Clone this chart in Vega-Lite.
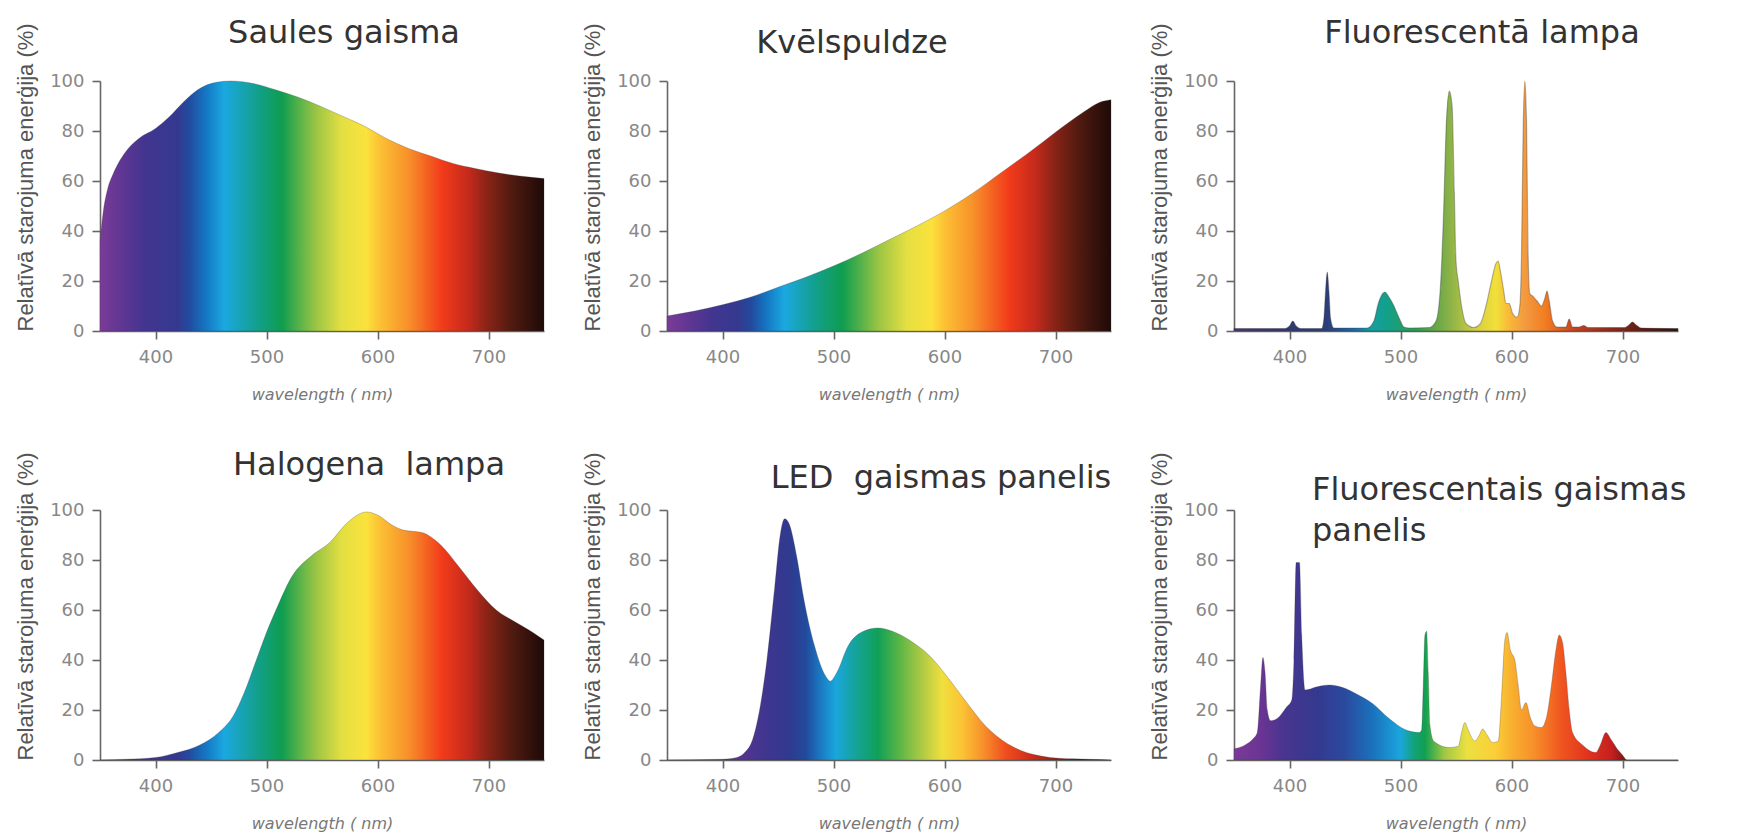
{
  "$schema": "https://vega.github.io/schema/vega-lite/v6.json",
  "background": "white",
  "padding": {"left": 14, "top": 16, "right": 5, "bottom": 2},
  "autosize": {"type": "pad"},
  "datasets": {
    "sun": [
      {"wl": 350, "e": 36}, {"wl": 353, "e": 48}, {"wl": 357, "e": 57}, {"wl": 362, "e": 63}, {"wl": 372, "e": 71},
      {"wl": 385, "e": 77}, {"wl": 400, "e": 81}, {"wl": 412, "e": 85.5}, {"wl": 425, "e": 91.5}, {"wl": 438, "e": 96.5},
      {"wl": 455, "e": 99.5}, {"wl": 468, "e": 100}, {"wl": 488, "e": 99}, {"wl": 508, "e": 96.5}, {"wl": 528, "e": 93.6},
      {"wl": 548, "e": 90}, {"wl": 568, "e": 86}, {"wl": 588, "e": 82}, {"wl": 608, "e": 77}, {"wl": 628, "e": 73},
      {"wl": 648, "e": 70}, {"wl": 668, "e": 67}, {"wl": 688, "e": 65}, {"wl": 708, "e": 63.3}, {"wl": 728, "e": 62},
      {"wl": 750, "e": 61}
    ],
    "inc": [
      {"wl": 350, "e": 6}, {"wl": 375, "e": 8}, {"wl": 400, "e": 10.5}, {"wl": 425, "e": 13.5}, {"wl": 450, "e": 17.5},
      {"wl": 475, "e": 21.5}, {"wl": 500, "e": 26}, {"wl": 525, "e": 31}, {"wl": 550, "e": 36.5}, {"wl": 575, "e": 42},
      {"wl": 600, "e": 48}, {"wl": 625, "e": 55}, {"wl": 650, "e": 63}, {"wl": 675, "e": 71}, {"wl": 700, "e": 79.5},
      {"wl": 725, "e": 87.5}, {"wl": 740, "e": 91.5}, {"wl": 750, "e": 92.5}
    ],
    "fl": [
      {"wl": 350, "e": 1}, {"wl": 396, "e": 1}, {"wl": 400, "e": 2}, {"wl": 403, "e": 4}, {"wl": 406, "e": 2},
      {"wl": 410, "e": 1}, {"wl": 429, "e": 1}, {"wl": 431, "e": 5}, {"wl": 432.5, "e": 16}, {"wl": 434, "e": 23.6},
      {"wl": 435.5, "e": 16}, {"wl": 437, "e": 5}, {"wl": 440, "e": 1.2}, {"wl": 470, "e": 1.2}, {"wl": 476, "e": 4},
      {"wl": 480, "e": 11}, {"wl": 484, "e": 15}, {"wl": 486, "e": 15.6}, {"wl": 489, "e": 14}, {"wl": 493, "e": 11},
      {"wl": 497, "e": 7}, {"wl": 500, "e": 4}, {"wl": 503, "e": 1.6}, {"wl": 508, "e": 1.2}, {"wl": 526, "e": 1.4},
      {"wl": 532, "e": 4}, {"wl": 536, "e": 18}, {"wl": 539, "e": 50}, {"wl": 541, "e": 80}, {"wl": 544, "e": 96},
      {"wl": 546.5, "e": 90}, {"wl": 548.5, "e": 55}, {"wl": 550, "e": 28}, {"wl": 552, "e": 20}, {"wl": 555, "e": 10},
      {"wl": 559, "e": 3}, {"wl": 566, "e": 1.4}, {"wl": 572, "e": 3}, {"wl": 577, "e": 10}, {"wl": 582, "e": 20},
      {"wl": 586, "e": 27}, {"wl": 588, "e": 28}, {"wl": 590, "e": 24}, {"wl": 593, "e": 16}, {"wl": 595, "e": 11},
      {"wl": 598, "e": 11}, {"wl": 601, "e": 7}, {"wl": 605, "e": 5.5}, {"wl": 607.5, "e": 10}, {"wl": 609, "e": 30},
      {"wl": 610.5, "e": 80}, {"wl": 612, "e": 100}, {"wl": 613.5, "e": 85}, {"wl": 615, "e": 30}, {"wl": 616.5, "e": 15},
      {"wl": 619, "e": 14}, {"wl": 623, "e": 12}, {"wl": 627, "e": 10}, {"wl": 630, "e": 13}, {"wl": 632, "e": 16},
      {"wl": 634, "e": 12}, {"wl": 637, "e": 4}, {"wl": 641, "e": 1.6}, {"wl": 649, "e": 1.6}, {"wl": 652, "e": 4.8},
      {"wl": 655, "e": 1.6}, {"wl": 661, "e": 1.6}, {"wl": 665, "e": 2.2}, {"wl": 669, "e": 1.4}, {"wl": 702, "e": 1.4},
      {"wl": 706, "e": 2.5}, {"wl": 709, "e": 3.6}, {"wl": 712, "e": 2.5}, {"wl": 717, "e": 1.2}, {"wl": 750, "e": 1}
    ],
    "hal": [
      {"wl": 350, "e": 0}, {"wl": 373, "e": 0.3}, {"wl": 400, "e": 1}, {"wl": 420, "e": 3}, {"wl": 440, "e": 6},
      {"wl": 457, "e": 11}, {"wl": 470, "e": 17.6}, {"wl": 480, "e": 27}, {"wl": 490, "e": 39}, {"wl": 500, "e": 51},
      {"wl": 510, "e": 61.5}, {"wl": 523, "e": 73.5}, {"wl": 540, "e": 81.5}, {"wl": 557, "e": 87}, {"wl": 573, "e": 95},
      {"wl": 590, "e": 99.2}, {"wl": 600, "e": 98}, {"wl": 613, "e": 94}, {"wl": 623, "e": 92}, {"wl": 640, "e": 91},
      {"wl": 657, "e": 86}, {"wl": 673, "e": 77.5}, {"wl": 690, "e": 68}, {"wl": 707, "e": 60}, {"wl": 723, "e": 55.5},
      {"wl": 740, "e": 51}, {"wl": 750, "e": 48}
    ],
    "led": [
      {"wl": 350, "e": 0}, {"wl": 400, "e": 0.3}, {"wl": 413, "e": 1}, {"wl": 420, "e": 3}, {"wl": 427, "e": 8},
      {"wl": 433, "e": 19}, {"wl": 440, "e": 40}, {"wl": 447, "e": 69}, {"wl": 452, "e": 90}, {"wl": 456, "e": 96.5},
      {"wl": 460, "e": 94.5}, {"wl": 467, "e": 81}, {"wl": 473, "e": 65}, {"wl": 483, "e": 45.5}, {"wl": 493, "e": 33.5},
      {"wl": 497, "e": 31.5}, {"wl": 503, "e": 35}, {"wl": 513, "e": 45.5}, {"wl": 527, "e": 51.5}, {"wl": 540, "e": 52.8},
      {"wl": 553, "e": 51.5}, {"wl": 570, "e": 47.5}, {"wl": 587, "e": 41.5}, {"wl": 603, "e": 33}, {"wl": 620, "e": 23},
      {"wl": 637, "e": 13.6}, {"wl": 653, "e": 7.6}, {"wl": 670, "e": 3.6}, {"wl": 687, "e": 1.6}, {"wl": 703, "e": 0.7},
      {"wl": 730, "e": 0.3}, {"wl": 750, "e": 0}
    ],
    "flp": [
      {"wl": 350, "e": 4.5}, {"wl": 360, "e": 6}, {"wl": 367, "e": 8.4}, {"wl": 371, "e": 11}, {"wl": 374, "e": 30},
      {"wl": 376, "e": 41}, {"wl": 378, "e": 35}, {"wl": 380, "e": 20}, {"wl": 383, "e": 15.7}, {"wl": 390, "e": 17},
      {"wl": 397, "e": 21}, {"wl": 402, "e": 24}, {"wl": 404, "e": 40}, {"wl": 406, "e": 79}, {"wl": 409, "e": 79},
      {"wl": 411, "e": 50}, {"wl": 414, "e": 28}, {"wl": 425, "e": 29.3}, {"wl": 436, "e": 30}, {"wl": 448, "e": 29},
      {"wl": 460, "e": 26.5}, {"wl": 475, "e": 22.5}, {"wl": 490, "e": 16.5}, {"wl": 505, "e": 12}, {"wl": 517, "e": 11},
      {"wl": 519, "e": 12}, {"wl": 520.5, "e": 30}, {"wl": 522, "e": 50}, {"wl": 523.5, "e": 51.5}, {"wl": 525, "e": 35},
      {"wl": 526.5, "e": 14}, {"wl": 530, "e": 7.5}, {"wl": 544, "e": 5}, {"wl": 552, "e": 5.5}, {"wl": 555, "e": 11},
      {"wl": 558, "e": 15}, {"wl": 561, "e": 12}, {"wl": 567, "e": 7.6}, {"wl": 571, "e": 10}, {"wl": 574, "e": 12.4},
      {"wl": 578, "e": 10}, {"wl": 583, "e": 7}, {"wl": 588, "e": 7.5}, {"wl": 591, "e": 25}, {"wl": 594, "e": 48},
      {"wl": 596, "e": 51}, {"wl": 599, "e": 44}, {"wl": 603, "e": 40}, {"wl": 606, "e": 30}, {"wl": 609, "e": 20},
      {"wl": 613, "e": 23}, {"wl": 617, "e": 17}, {"wl": 621, "e": 13.6}, {"wl": 627, "e": 13}, {"wl": 632, "e": 18},
      {"wl": 636, "e": 30}, {"wl": 640, "e": 44}, {"wl": 643, "e": 50}, {"wl": 646, "e": 47}, {"wl": 649, "e": 35},
      {"wl": 652, "e": 20}, {"wl": 655, "e": 11}, {"wl": 664, "e": 6}, {"wl": 676, "e": 3}, {"wl": 680, "e": 6},
      {"wl": 685, "e": 11}, {"wl": 690, "e": 8}, {"wl": 696, "e": 4}, {"wl": 700, "e": 2}, {"wl": 704, "e": 0},
      {"wl": 750, "e": 0}
    ]
  },
  "columns": 3,
  "bounds": "flush",
  "spacing": {"row": 179, "column": 123},
  "concat": [
    {
      "width": 444, "height": 250,
      "data": {"name": "sun"},
      "title": {"text": "Saules gaisma", "dx": 22, "offset": -27},
      "mark": {"type": "area", "interpolate": "monotone", "stroke": "#333", "strokeOpacity": 0.25, "strokeWidth": 1,
        "fill": {"gradient": "linear", "x1": 0, "y1": 0, "x2": 1, "y2": 0, "stops": [
          {"offset": 0, "color": "#7b3b97"}, {"offset": 0.05, "color": "#5f3693"}, {"offset": 0.1, "color": "#433590"},
          {"offset": 0.175, "color": "#34398f"}, {"offset": 0.2, "color": "#224a9e"}, {"offset": 0.24, "color": "#1478c4"},
          {"offset": 0.28, "color": "#1ba8e0"}, {"offset": 0.33, "color": "#16a2a8"}, {"offset": 0.36, "color": "#129f86"},
          {"offset": 0.41, "color": "#0f9d50"}, {"offset": 0.46, "color": "#6cb848"}, {"offset": 0.49, "color": "#a0c644"},
          {"offset": 0.545, "color": "#e4df42"}, {"offset": 0.6, "color": "#fbe23c"}, {"offset": 0.63, "color": "#fcc134"},
          {"offset": 0.695, "color": "#f7902a"}, {"offset": 0.77, "color": "#f23b1a"}, {"offset": 0.83, "color": "#c42a1c"},
          {"offset": 0.87, "color": "#8c2417"}, {"offset": 0.93, "color": "#4e1a10"}, {"offset": 1, "color": "#1e0a08"}]}},
      "encoding": {
        "x": {"field": "wl", "type": "quantitative", "scale": {"domain": [350, 750], "nice": false, "zero": false}, "axis": {"values": [400, 500, 600, 700], "title": "wavelength ( nm)"}},
        "y": {"field": "e", "type": "quantitative", "scale": {"domain": [0, 100]}, "axis": {"values": [0, 20, 40, 60, 80, 100], "title": "Relatīvā starojuma enerģija (%)"}}
      }
    },
    {
      "width": 444, "height": 250,
      "data": {"name": "inc"},
      "title": {"text": "Kvēlspuldze", "dx": -37, "offset": -37},
      "mark": {"type": "area", "interpolate": "monotone", "stroke": "#333", "strokeOpacity": 0.25, "strokeWidth": 1,
        "fill": {"gradient": "linear", "x1": 0, "y1": 0, "x2": 1, "y2": 0, "stops": [
          {"offset": 0, "color": "#7b3b97"}, {"offset": 0.05, "color": "#5f3693"}, {"offset": 0.1, "color": "#433590"},
          {"offset": 0.16, "color": "#34398f"}, {"offset": 0.19, "color": "#224a9e"}, {"offset": 0.225, "color": "#1478c4"},
          {"offset": 0.265, "color": "#1ba8e0"}, {"offset": 0.31, "color": "#16a2a8"}, {"offset": 0.34, "color": "#129f86"},
          {"offset": 0.395, "color": "#0f9d50"}, {"offset": 0.45, "color": "#6cb848"}, {"offset": 0.48, "color": "#a0c644"},
          {"offset": 0.54, "color": "#e4df42"}, {"offset": 0.595, "color": "#fbe23c"}, {"offset": 0.625, "color": "#fcc134"},
          {"offset": 0.69, "color": "#f7902a"}, {"offset": 0.77, "color": "#f23b1a"}, {"offset": 0.83, "color": "#c42a1c"},
          {"offset": 0.87, "color": "#8c2417"}, {"offset": 0.93, "color": "#4e1a10"}, {"offset": 1, "color": "#1e0a08"}]}},
      "encoding": {
        "x": {"field": "wl", "type": "quantitative", "scale": {"domain": [350, 750], "nice": false, "zero": false}, "axis": {"values": [400, 500, 600, 700], "title": "wavelength ( nm)"}},
        "y": {"field": "e", "type": "quantitative", "scale": {"domain": [0, 100]}, "axis": {"values": [0, 20, 40, 60, 80, 100], "title": "Relatīvā starojuma enerģija (%)"}}
      }
    },
    {
      "width": 444, "height": 250,
      "data": {"name": "fl"},
      "title": {"text": "Fluorescentā lampa", "dx": 26, "offset": -27},
      "mark": {"type": "area", "interpolate": "monotone", "stroke": "#333", "strokeOpacity": 0.35, "strokeWidth": 1.2,
        "fill": {"gradient": "linear", "x1": 0, "y1": 0, "x2": 1, "y2": 0, "stops": [
          {"offset": 0, "color": "#4a3470"}, {"offset": 0.1, "color": "#35366e"}, {"offset": 0.21, "color": "#2c3e7a"},
          {"offset": 0.27, "color": "#1a6aa8"}, {"offset": 0.31, "color": "#159fa0"}, {"offset": 0.345, "color": "#12a08a"},
          {"offset": 0.41, "color": "#2f9e50"}, {"offset": 0.46, "color": "#6ca848"}, {"offset": 0.49, "color": "#90b448"},
          {"offset": 0.55, "color": "#d8d040"}, {"offset": 0.59, "color": "#f2e03a"}, {"offset": 0.62, "color": "#f9b838"},
          {"offset": 0.655, "color": "#f39a40"}, {"offset": 0.7, "color": "#f27d22"}, {"offset": 0.77, "color": "#c8401e"},
          {"offset": 0.85, "color": "#8a2a1c"}, {"offset": 0.93, "color": "#5a1a12"}, {"offset": 1, "color": "#2e1010"}]}},
      "encoding": {
        "x": {"field": "wl", "type": "quantitative", "scale": {"domain": [350, 750], "nice": false, "zero": false}, "axis": {"values": [400, 500, 600, 700], "title": "wavelength ( nm)"}},
        "y": {"field": "e", "type": "quantitative", "scale": {"domain": [0, 100]}, "axis": {"values": [0, 20, 40, 60, 80, 100], "title": "Relatīvā starojuma enerģija (%)"}}
      }
    },
    {
      "width": 444, "height": 250,
      "data": {"name": "hal"},
      "title": {"text": "Halogena\u00a0 lampa", "dx": 47, "offset": -30},
      "mark": {"type": "area", "interpolate": "monotone", "stroke": "#333", "strokeOpacity": 0.25, "strokeWidth": 1,
        "fill": {"gradient": "linear", "x1": 0, "y1": 0, "x2": 1, "y2": 0, "stops": [
          {"offset": 0, "color": "#7b3b97"}, {"offset": 0.05, "color": "#5f3693"}, {"offset": 0.1, "color": "#433590"},
          {"offset": 0.175, "color": "#34398f"}, {"offset": 0.2, "color": "#224a9e"}, {"offset": 0.24, "color": "#1478c4"},
          {"offset": 0.28, "color": "#1ba8e0"}, {"offset": 0.33, "color": "#16a2a8"}, {"offset": 0.36, "color": "#129f86"},
          {"offset": 0.41, "color": "#0f9d50"}, {"offset": 0.46, "color": "#6cb848"}, {"offset": 0.49, "color": "#a0c644"},
          {"offset": 0.545, "color": "#e4df42"}, {"offset": 0.6, "color": "#fbe23c"}, {"offset": 0.63, "color": "#fcc134"},
          {"offset": 0.695, "color": "#f7902a"}, {"offset": 0.77, "color": "#f23b1a"}, {"offset": 0.83, "color": "#c42a1c"},
          {"offset": 0.87, "color": "#8c2417"}, {"offset": 0.93, "color": "#4e1a10"}, {"offset": 1, "color": "#1e0a08"}]}},
      "encoding": {
        "x": {"field": "wl", "type": "quantitative", "scale": {"domain": [350, 750], "nice": false, "zero": false}, "axis": {"values": [400, 500, 600, 700], "title": "wavelength ( nm)"}},
        "y": {"field": "e", "type": "quantitative", "scale": {"domain": [0, 100]}, "axis": {"values": [0, 20, 40, 60, 80, 100], "title": "Relatīvā starojuma enerģija (%)"}}
      }
    },
    {
      "width": 444, "height": 250,
      "data": {"name": "led"},
      "title": {"text": "LED\u00a0 gaismas panelis", "dx": 52, "offset": -43},
      "mark": {"type": "area", "interpolate": "monotone", "stroke": "#333", "strokeOpacity": 0.25, "strokeWidth": 1,
        "fill": {"gradient": "linear", "x1": 0, "y1": 0, "x2": 1, "y2": 0, "stops": [
          {"offset": 0, "color": "#7b3b97"}, {"offset": 0.15, "color": "#5a3592"}, {"offset": 0.225, "color": "#3f358f"},
          {"offset": 0.275, "color": "#2f3a8e"}, {"offset": 0.3125, "color": "#22499c"}, {"offset": 0.345, "color": "#1a78c2"},
          {"offset": 0.38, "color": "#1aa6dc"}, {"offset": 0.425, "color": "#15a39a"}, {"offset": 0.475, "color": "#10a058"},
          {"offset": 0.525, "color": "#5db646"}, {"offset": 0.57, "color": "#a8c844"}, {"offset": 0.62, "color": "#f0df3e"},
          {"offset": 0.6625, "color": "#fbc535"}, {"offset": 0.7125, "color": "#f7902a"}, {"offset": 0.7625, "color": "#f04e1e"},
          {"offset": 0.8125, "color": "#d5301c"}, {"offset": 0.875, "color": "#8c2417"}, {"offset": 0.9375, "color": "#4e1a10"},
          {"offset": 1, "color": "#1e0a08"}]}},
      "encoding": {
        "x": {"field": "wl", "type": "quantitative", "scale": {"domain": [350, 750], "nice": false, "zero": false}, "axis": {"values": [400, 500, 600, 700], "title": "wavelength ( nm)"}},
        "y": {"field": "e", "type": "quantitative", "scale": {"domain": [0, 100]}, "axis": {"values": [0, 20, 40, 60, 80, 100], "title": "Relatīvā starojuma enerģija (%)"}}
      }
    },
    {
      "width": 444, "height": 250,
      "data": {"name": "flp"},
      "title": {"text": ["Fluorescentais gaismas", "\u00a0panelis"], "anchor": "start", "dx": 78, "offset": -96, "lineHeight": 41},
      "mark": {"type": "area", "interpolate": "monotone", "stroke": "#333", "strokeOpacity": 0.25, "strokeWidth": 1,
        "fill": {"gradient": "linear", "x1": 0, "y1": 0, "x2": 1, "y2": 0, "stops": [
          {"offset": 0, "color": "#7b3b97"}, {"offset": 0.0625, "color": "#6a3494"}, {"offset": 0.1125, "color": "#48358f"},
          {"offset": 0.1875, "color": "#34398f"}, {"offset": 0.25, "color": "#2a4a9e"}, {"offset": 0.3125, "color": "#1a72bd"},
          {"offset": 0.375, "color": "#1aa6dc"}, {"offset": 0.405, "color": "#13a27a"}, {"offset": 0.43, "color": "#11a050"},
          {"offset": 0.475, "color": "#a2c844"}, {"offset": 0.525, "color": "#ece040"}, {"offset": 0.5875, "color": "#fbcf38"},
          {"offset": 0.625, "color": "#f8b030"}, {"offset": 0.675, "color": "#f7902a"}, {"offset": 0.7375, "color": "#f05520"},
          {"offset": 0.8, "color": "#e0321c"}, {"offset": 0.85, "color": "#c42020"}, {"offset": 0.8875, "color": "#6a1810"},
          {"offset": 1, "color": "#1e0a08"}]}},
      "encoding": {
        "x": {"field": "wl", "type": "quantitative", "scale": {"domain": [350, 750], "nice": false, "zero": false}, "axis": {"values": [400, 500, 600, 700], "title": "wavelength ( nm)"}},
        "y": {"field": "e", "type": "quantitative", "scale": {"domain": [0, 100]}, "axis": {"values": [0, 20, 40, 60, 80, 100], "title": "Relatīvā starojuma enerģija (%)"}}
      }
    }
  ],
  "config": {
    "view": {"stroke": null},
    "font": "DejaVu Sans",
    "title": {"font": "DejaVu Sans", "fontSize": 32, "fontWeight": "normal", "color": "#333333", "anchor": "middle", "frame": "group", "baseline": "alphabetic"},
    "axis": {"grid": false, "domainColor": "#666666", "domainWidth": 1.6, "tickColor": "#666666", "tickWidth": 1.6, "tickSize": 8,
      "labelColor": "#888888", "labelFont": "DejaVu Sans", "labelFontSize": 18, "labelFlush": false, "labelOverlap": false},
    "axisX": {"labelPadding": 9, "titlePadding": 20, "titleFont": "DejaVu Sans", "titleFontSize": 16, "titleFontStyle": "italic", "titleFontWeight": "normal", "titleColor": "#777777"},
    "axisY": {"labelPadding": 8, "titlePadding": 12, "titleFont": "Liberation Sans", "titleFontSize": 22, "titleFontWeight": "normal", "titleColor": "#555555", "titleAnchor": "start"}
  }
}
